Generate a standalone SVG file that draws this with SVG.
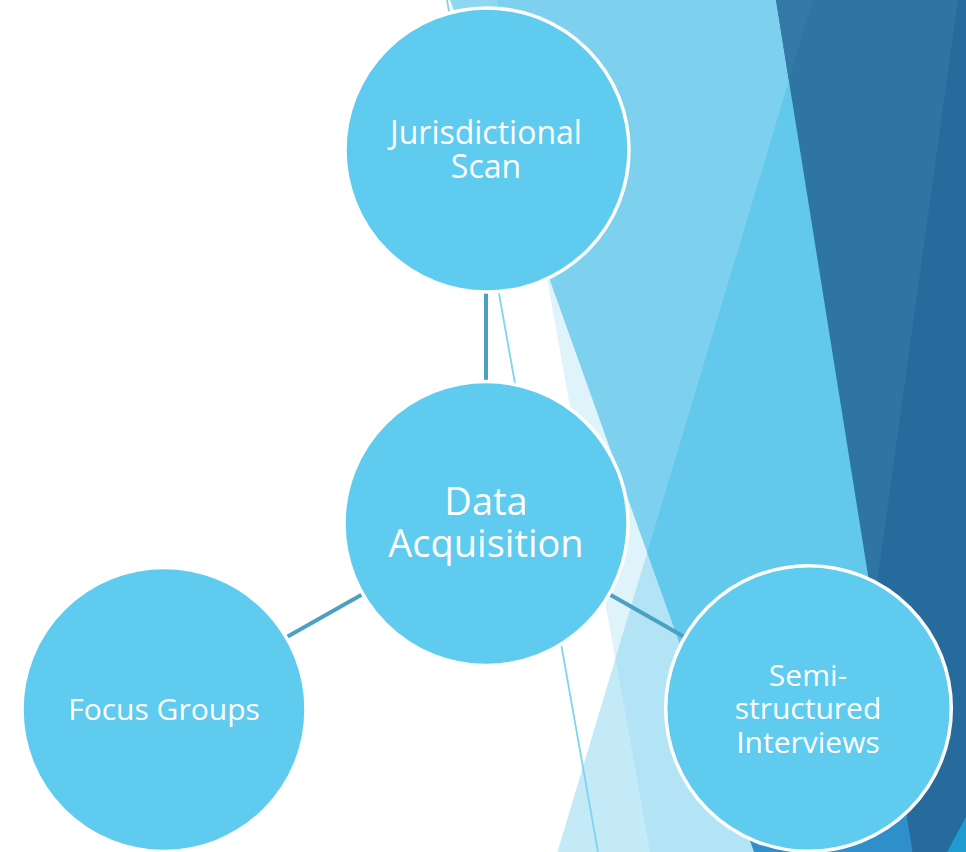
<svg xmlns="http://www.w3.org/2000/svg" width="966" height="852" viewBox="0 0 966 852">
  <style>
    .node circle { fill: #5ecbef; stroke: #ffffff; stroke-width: 3.5; }
    .node text { fill: #ffffff; font-family: "Open Sans", "Noto Sans", "DejaVu Sans", sans-serif; text-anchor: middle; }
    .sm { font-size: 30px; }
    .lg { font-size: 38px; }
    .conn line { stroke: #4aa1c2; stroke-width: 4; }
  </style>
  <rect width="966" height="852" fill="#ffffff"/>
  <g id="background">
    <polygon points="497,0 966,0 966,852 650,852" fill="#dff3fb"/>
    <polygon points="813,0 966,0 966,852 557.4,852" fill="#c5eaf7"/>
    <polygon points="813,0 966,0 966,852 650,852 615.5,658.3" fill="#b3e4f5"/>
    <polygon points="450,0 966,0 966,852 754.2,852" fill="#8ed7f1"/>
    <polygon points="497,0 966,0 966,852 754.2,852 544.8,265.5" fill="#7dd1ef"/>
    <polygon points="813,0 966,0 966,852 754.2,852 647.2,552.5" fill="#63c9ec"/>
    <polygon points="776,0 966,0 966,852 912.3,852" fill="#2e75a4"/>
    <polygon points="776,0 813,0 788.9,80.4" fill="#3479a7"/>
    <polygon points="958,0 966,0 966,852 912.3,852 873.4,608.7" fill="#276a9c"/>
    <polygon points="721,760 897.6,760 912.3,852 754.2,852" fill="#2f8fcb"/>
    <polygon points="947,852 966,817 966,852" fill="#1e9bd0"/>
    <line x1="447" y1="0" x2="598" y2="852" stroke="#7fd4f0" stroke-width="1.8"/>
  </g>
  <g id="connectors" class="conn">
    <line x1="486" y1="290" x2="486" y2="390"/>
    <line x1="370" y1="590" x2="285" y2="638"/>
    <line x1="602" y1="590" x2="688" y2="639"/>
  </g>
  <g id="jurisdictional-scan" class="node">
    <circle cx="487" cy="150" r="142"/>
    <text class="sm" x="486" y="144" font-size="32" style="font-size:32px">Jurisdictional</text>
    <text class="sm" x="486" y="178" style="font-size:32px">Scan</text>
  </g>
  <g id="data-acquisition" class="node">
    <circle cx="486" cy="523.5" r="142"/>
    <text class="lg" x="486" y="515">Data</text>
    <text class="lg" x="486" y="557">Acquisition</text>
  </g>
  <g id="focus-groups" class="node">
    <circle cx="164" cy="709.5" r="142"/>
    <text class="sm" x="164" y="720">Focus Groups</text>
  </g>
  <g id="semi-structured-interviews" class="node">
    <circle cx="808.5" cy="708.5" r="142.8"/>
    <text class="sm" x="808" y="686">Semi-</text>
    <text class="sm" x="808" y="719">structured</text>
    <text class="sm" x="808" y="753">Interviews</text>
  </g>
</svg>
